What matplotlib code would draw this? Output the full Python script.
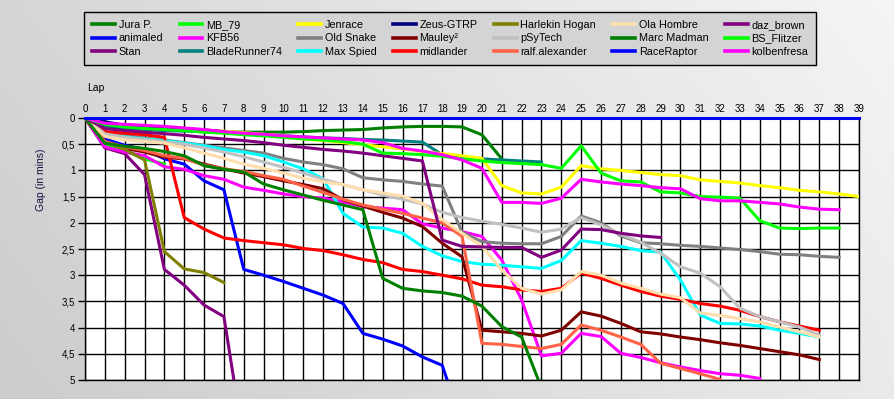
import matplotlib
matplotlib.use("Agg")
import matplotlib.pyplot as plt
import numpy as np

plt.rcParams['font.family'] = ['Liberation Sans', 'DejaVu Sans']

# gap to the leader (minutes) per lap, lap 0 first
jura_p = [0, 0.12, 0.18, 0.21, 0.23, 0.24, 0.25, 0.26, 0.27, 0.27, 0.27, 0.26, 0.24, 0.23, 0.22,
          0.19, 0.17, 0.16, 0.16, 0.17, 0.32, 0.78]
animaled = [0, 0.4, 0.52, 0.6, 0.78, 0.88, 1.2, 1.37, 2.89, 3.0, 3.12, 3.25, 3.38, 3.54, 4.11,
            4.22, 4.35, 4.56, 4.72, 5.84]
stan = [0, 0.57, 0.68, 1.08, 2.89, 3.19, 3.57, 3.79, 6.2]
mb_79 = [0, 0.5, 0.62, 0.78, 0.88]
kfb56 = [0, 0.55, 0.65, 0.72, 0.93, 0.98, 1.1, 1.17, 1.32, 1.38, 1.45, 1.5, 1.53, 1.6, 1.69,
         1.72, 1.75, 2.02, 2.1, 2.17, 2.26, 2.71, 3.47, 4.54, 4.49, 4.11, 4.17, 4.49, 4.57, 4.67,
         4.75, 4.82, 4.88, 4.91, 4.97]
bladerunner74 = [0, 0.15, 0.2, 0.22, 0.24, 0.25, 0.26, 0.28, 0.3, 0.32, 0.34, 0.36, 0.38, 0.39,
                 0.41, 0.42, 0.44, 0.46, 0.7, 0.78, 0.78, 0.8, 0.82, 0.84]
jenrace = [0, 0.1, 0.14, 0.17, 0.19, 0.21, 0.23, 0.25, 0.28, 0.31, 0.34, 0.4, 0.43, 0.47, 0.51,
           0.55, 0.59, 0.64, 0.68, 0.72, 0.77, 1.29, 1.43, 1.45, 1.32, 0.91, 0.97, 1.0, 1.04, 1.08,
           1.1, 1.18, 1.21, 1.24, 1.29, 1.33, 1.38, 1.41, 1.45, 1.5]
old_snake = [0, 0.28, 0.33, 0.38, 0.42, 0.47, 0.52, 0.57, 0.62, 0.67, 0.77, 0.84, 0.89, 0.97,
             1.14, 1.18, 1.21, 1.26, 1.3, 2.18, 2.36, 2.39, 2.4, 2.4, 2.26, 1.87, 2.0, 2.25, 2.38,
             2.4, 2.43, 2.45, 2.48, 2.51, 2.55, 2.6, 2.61, 2.64, 2.66]
max_spied = [0, 0.33, 0.36, 0.4, 0.43, 0.48, 0.53, 0.6, 0.65, 0.72, 0.84, 0.97, 1.16, 1.82, 2.08,
             2.1, 2.2, 2.45, 2.63, 2.74, 2.79, 2.81, 2.84, 2.87, 2.72, 2.34, 2.39, 2.45, 2.53, 2.56,
             3.09, 3.76, 3.92, 3.93, 3.97, 4.05, 4.11, 4.18]
zeus_gtrp = [0, 0.07, 0.14, 0.16, 0.18, 0.2, 0.23, 0.26]
mauley = [0, 0.45, 0.58, 0.65, 0.75, 0.78, 0.88, 0.97, 1.05, 1.12, 1.2, 1.27, 1.35, 1.56, 1.68,
          1.8, 1.91, 2.07, 2.39, 2.65, 4.05, 4.08, 4.11, 4.16, 4.05, 3.7, 3.78, 3.92, 4.08, 4.12,
          4.18, 4.23, 4.29, 4.34, 4.4, 4.46, 4.52, 4.61]
midlander = [0, 0.26, 0.29, 0.32, 0.37, 1.9, 2.12, 2.29, 2.34, 2.38, 2.42, 2.49, 2.53, 2.61, 2.7,
             2.76, 2.89, 2.93, 3.0, 3.07, 3.19, 3.22, 3.28, 3.31, 3.25, 2.96, 3.06, 3.19, 3.31, 3.4,
             3.46, 3.54, 3.59, 3.67, 3.79, 3.89, 3.97, 4.05]
harlekin_hogan = [0, 0.45, 0.6, 0.8, 2.55, 2.88, 2.95, 3.14]
psytech = [0, 0.3, 0.37, 0.41, 0.45, 0.5, 0.57, 0.65, 0.74, 0.84, 0.94, 1.05, 1.17, 1.27, 1.37,
           1.47, 1.55, 1.64, 1.8, 1.9, 1.97, 2.03, 2.1, 2.18, 2.12, 1.9, 2.04, 2.22, 2.37, 2.58,
           2.84, 2.96, 3.22, 3.63, 3.79, 3.89, 3.99, 4.14]
ralf_alexander = [0, 0.45, 0.55, 0.62, 0.72, 0.77, 0.9, 0.97, 1.02, 1.1, 1.17, 1.3, 1.42, 1.55,
                  1.66, 1.74, 1.82, 1.91, 2.0, 2.26, 4.3, 4.32, 4.36, 4.4, 4.32, 3.95, 4.05, 4.18,
                  4.32, 4.68, 4.78, 4.88, 4.99]
ola_hombre = [0, 0.35, 0.42, 0.45, 0.48, 0.57, 0.67, 0.77, 0.88, 0.96, 1.05, 1.15, 1.22, 1.27,
              1.37, 1.43, 1.49, 1.63, 1.94, 2.2, 2.45, 2.9, 3.25, 3.36, 3.28, 2.93, 3.0, 3.15, 3.25,
              3.36, 3.43, 3.72, 3.77, 3.83, 3.89, 3.99, 4.08, 4.18]
marc_madman = [0, 0.48, 0.54, 0.58, 0.64, 0.72, 0.91, 0.98, 1.03, 1.26, 1.37, 1.47, 1.57, 1.66,
               1.75, 3.06, 3.25, 3.30, 3.33, 3.40, 3.59, 3.98, 4.18, 5.15]
race_raptor = [0, 0, 0, 0, 0, 0, 0, 0, 0, 0, 0, 0, 0, 0, 0, 0, 0, 0, 0, 0,
               0, 0, 0, 0, 0, 0, 0, 0, 0, 0, 0, 0, 0, 0, 0, 0, 0, 0, 0, 0]
daz_brown = [0, 0.2, 0.24, 0.27, 0.3, 0.33, 0.37, 0.4, 0.43, 0.47, 0.52, 0.56, 0.6, 0.63, 0.67,
             0.72, 0.77, 0.82, 2.33, 2.45, 2.46, 2.47, 2.47, 2.66, 2.52, 2.12, 2.13, 2.2, 2.25, 2.28]
bs_flitzer = [0, 0.12, 0.17, 0.2, 0.22, 0.24, 0.27, 0.29, 0.32, 0.34, 0.37, 0.4, 0.42, 0.45, 0.5,
              0.67, 0.68, 0.7, 0.73, 0.78, 0.82, 0.85, 0.87, 0.89, 0.96, 0.53, 1.05, 1.2, 1.22,
              1.41, 1.43, 1.5, 1.51, 1.53, 1.96, 2.1, 2.11, 2.1, 2.1]
kolbenfresa = [0, 0.1, 0.12, 0.14, 0.16, 0.19, 0.22, 0.26, 0.29, 0.31, 0.34, 0.36, 0.38, 0.4,
               0.42, 0.47, 0.58, 0.63, 0.7, 0.8, 0.96, 1.61, 1.61, 1.63, 1.53, 1.17, 1.22, 1.26,
               1.29, 1.33, 1.35, 1.54, 1.58, 1.58, 1.61, 1.64, 1.7, 1.74, 1.75]

# legend order (7 columns x 3 rows, filled column by column)
series = [
    ("Jura P.", "#008000", jura_p),
    ("animaled", "#0000ff", animaled),
    ("Stan", "#800080", stan),
    ("MB_79", "#00ff00", mb_79),
    ("KFB56", "#ff00ff", kfb56),
    ("BladeRunner74", "#008080", bladerunner74),
    ("Jenrace", "#ffff00", jenrace),
    ("Old Snake", "#808080", old_snake),
    ("Max Spied", "#00ffff", max_spied),
    ("Zeus-GTRP", "#000080", zeus_gtrp),
    ("Mauley\u00b2", "#800000", mauley),
    ("midlander", "#ff0000", midlander),
    ("Harlekin Hogan", "#808000", harlekin_hogan),
    ("pSyTech", "#c0c0c0", psytech),
    ("ralf.alexander", "#ff6347", ralf_alexander),
    ("Ola Hombre", "#ffdead", ola_hombre),
    ("Marc Madman", "#008000", marc_madman),
    ("RaceRaptor", "#0000ff", race_raptor),
    ("daz_brown", "#800080", daz_brown),
    ("BS_Flitzer", "#00ff00", bs_flitzer),
    ("kolbenfresa", "#ff00ff", kolbenfresa),
]

W, H = 895, 399
fig = plt.figure(figsize=(W / 100, H / 100), dpi=100)

# grey gradient background
bg = fig.add_axes([0, 0, 1, 1], zorder=-10)
gx, gy = np.meshgrid(np.linspace(0, 1, 300), np.linspace(0, 1, 150))
shade = 0.84 + 0.12 * gx - 0.04 * gy
bg.imshow(np.dstack([shade, shade, shade]), extent=[0, 1, 0, 1], aspect='auto',
          origin='upper')
bg.set_axis_off()

ax = fig.add_axes([85 / W, 19 / H, 774 / W, 262 / H])
ax.set_facecolor('white')

for name, color, vals in series:
    laps = np.arange(len(vals))
    clip = name != "RaceRaptor"
    ax.plot(laps, vals, color=color, lw=2.2, label=name, clip_on=clip,
            solid_joinstyle='round', zorder=5 if clip else 6)

ax.set_xlim(0, 39)
ax.set_ylim(5, 0)
ax.xaxis.tick_top()
ax.set_xticks(np.arange(0, 40))
yt = np.arange(0, 5.01, 0.5)
ax.set_yticks(yt)
ax.set_yticklabels([f"{v:g}".replace('.', ',') for v in yt])
ax.tick_params(axis='x', length=0, pad=3, labelsize=7)
ax.tick_params(axis='y', length=5, width=1, pad=2, labelsize=7)
ax.grid(True, color='black', lw=1.0)
ax.set_axisbelow(True)
for s in ax.spines.values():
    s.set_color('black')
    s.set_linewidth(1.0)

fig.text(87 / W, 1 - 88 / H, "Lap", ha='left', va='center', fontsize=7.5)
fig.text(41 / W, 1 - 180 / H, "Gap (in mins)", rotation=90, ha='center', va='center',
         fontsize=7.5, color='#101040')

leg = fig.legend(loc='upper left', bbox_to_anchor=(84 / W, 1 - 12 / H), ncol=7,
                 fontsize=7.8, frameon=True, fancybox=False, framealpha=1,
                 facecolor='#d4d4d4', edgecolor='black', borderaxespad=0,
                 handlelength=2.1, handletextpad=0.35, columnspacing=1.5,
                 labelspacing=0.3, borderpad=0.75)
leg.get_frame().set_linewidth(1.0)
for line in leg.get_lines():
    line.set_linewidth(2.6)

fig.savefig("out.png", dpi=100)
